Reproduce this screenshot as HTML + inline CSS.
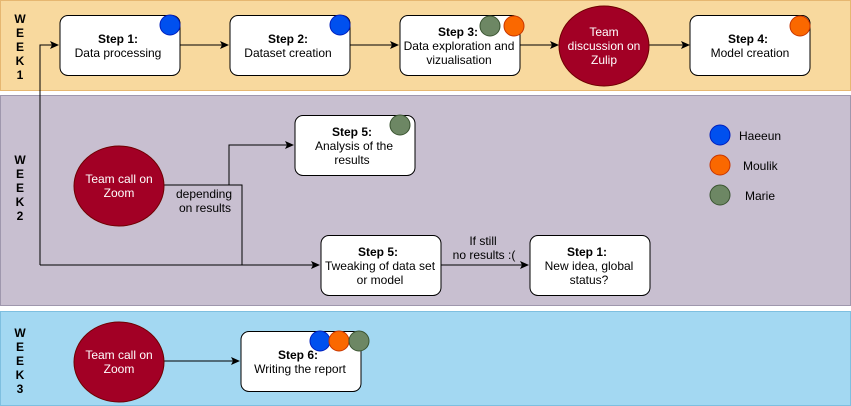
<!DOCTYPE html>
<html><head><meta charset="utf-8"><style>
html,body{margin:0;padding:0;background:#fff;}
svg{display:block;font-family:"Liberation Sans",sans-serif;}
</style></head><body>
<svg width="851" height="406" viewBox="0 0 851 406" xmlns="http://www.w3.org/2000/svg">
<defs><marker id="a" markerWidth="10" markerHeight="10" refX="8" refY="4" orient="auto" markerUnits="userSpaceOnUse"><path d="M0,0 L9,4 L0,8 L2,4 Z" fill="#000"/></marker></defs>
<rect x="0.5" y="0.5" width="850" height="90" fill="#f8d99e" stroke="#e6b771"/>
<rect x="0.5" y="95.5" width="850" height="210" fill="#c8bfd0" stroke="#9f97ad"/>
<rect x="0.5" y="311.5" width="850" height="94" fill="#a3d8f2" stroke="#7ebfe0"/>
<g font-size="12" font-weight="bold" text-anchor="middle">
<text x="20" y="23">W</text><text x="20" y="37">E</text><text x="20" y="51">E</text><text x="20" y="65">K</text><text x="20" y="79">1</text>
<text x="20" y="164">W</text><text x="20" y="178">E</text><text x="20" y="192">E</text><text x="20" y="206">K</text><text x="20" y="220">2</text>
<text x="20" y="337">W</text><text x="20" y="351">E</text><text x="20" y="365">E</text><text x="20" y="379">K</text><text x="20" y="393">3</text>
</g>
<g fill="none" stroke="#000" stroke-width="1">
<path d="M180,45 H228" marker-end="url(#a)"/>
<path d="M350,45 H398" marker-end="url(#a)"/>
<path d="M520,45 H558" marker-end="url(#a)"/>
<path d="M649,45 H689" marker-end="url(#a)"/>
<path d="M40,265 V45 H58" marker-end="url(#a)"/>
<path d="M40,265 H319" marker-end="url(#a)"/>
<path d="M164,185 H242 V265"/>
<path d="M229,185 V145 H293" marker-end="url(#a)"/>
<path d="M441,265 H528" marker-end="url(#a)"/>
<path d="M164,361 H239" marker-end="url(#a)"/>
</g>
<g fill="#fff" stroke="#000">
<rect x="60" y="15.5" width="120" height="60" rx="8"/>
<rect x="230" y="15.5" width="120" height="60" rx="8"/>
<rect x="400" y="15.5" width="120" height="60" rx="8"/>
<rect x="690" y="15.5" width="120" height="60" rx="8"/>
<rect x="295" y="115.5" width="120" height="60" rx="8"/>
<rect x="321" y="235.5" width="120" height="60" rx="8"/>
<rect x="530" y="235.5" width="120" height="60" rx="8"/>
<rect x="241" y="331.5" width="120" height="60" rx="8"/>
</g>
<g fill="#a20025" stroke="#6f0000">
<ellipse cx="604" cy="46" rx="45" ry="40"/>
<ellipse cx="119" cy="186" rx="45" ry="40"/>
<ellipse cx="119" cy="362" rx="45" ry="40"/>
</g>
<g stroke-width="1">
<circle cx="170" cy="25" r="10" fill="#0050ef" stroke="#001dbc"/>
<circle cx="340" cy="25" r="10" fill="#0050ef" stroke="#001dbc"/>
<circle cx="490" cy="26" r="10" fill="#6d8764" stroke="#3a5431"/>
<circle cx="514" cy="26" r="10" fill="#fa6800" stroke="#c73500"/>
<circle cx="800" cy="26" r="10" fill="#fa6800" stroke="#c73500"/>
<circle cx="400" cy="125" r="10" fill="#6d8764" stroke="#3a5431"/>
<circle cx="720" cy="135" r="10" fill="#0050ef" stroke="#001dbc"/>
<circle cx="720" cy="165" r="10" fill="#fa6800" stroke="#c73500"/>
<circle cx="720" cy="195" r="10" fill="#6d8764" stroke="#3a5431"/>
<circle cx="320" cy="341" r="10" fill="#0050ef" stroke="#001dbc"/>
<circle cx="339" cy="341" r="10" fill="#fa6800" stroke="#c73500"/>
<circle cx="359" cy="341" r="10" fill="#6d8764" stroke="#3a5431"/>
</g>
<g font-size="12" text-anchor="middle" fill="#000">
<text x="118" y="43"><tspan font-weight="bold">Step 1:</tspan><tspan x="118" dy="14">Data processing</tspan></text>
<text x="288" y="43"><tspan font-weight="bold">Step 2:</tspan><tspan x="288" dy="14">Dataset creation</tspan></text>
<text x="458" y="36"><tspan font-weight="bold">Step 3:</tspan><tspan x="459" dy="14">Data exploration and</tspan><tspan x="459" dy="14">vizualisation</tspan></text>
<text x="748" y="43"><tspan font-weight="bold">Step 4:</tspan><tspan x="750" dy="14">Model creation</tspan></text>
<text x="352" y="136"><tspan font-weight="bold">Step 5:</tspan><tspan x="354" dy="14">Analysis of the</tspan><tspan x="352" dy="14">results</tspan></text>
<text x="378" y="256"><tspan font-weight="bold">Step 5:</tspan><tspan x="380" dy="14">Tweaking of data set</tspan><tspan x="380" dy="14">or model</tspan></text>
<text x="587" y="256"><tspan font-weight="bold">Step 1:</tspan><tspan x="589" dy="14">New idea, global</tspan><tspan x="589" dy="14">status?</tspan></text>
<text x="298" y="359"><tspan font-weight="bold">Step 6:</tspan><tspan x="300" dy="14">Writing the report</tspan></text>
<text x="204" y="198">depending</text><text x="205" y="212">on results</text>
<text x="483" y="245">If still</text><text x="484" y="259">no results :(</text>
</g>
<g font-size="12" fill="#fff" text-anchor="middle">
<text x="604" y="36">Team</text><text x="604" y="50">discussion on</text><text x="604" y="64">Zulip</text>
<text x="119" y="183">Team call on</text><text x="119" y="197">Zoom</text>
<text x="119" y="359">Team call on</text><text x="119" y="373">Zoom</text>
</g>
<g font-size="12" fill="#000">
<text x="739" y="140">Haeeun</text>
<text x="743" y="170">Moulik</text>
<text x="745" y="200">Marie</text>
</g>
</svg>
</body></html>
